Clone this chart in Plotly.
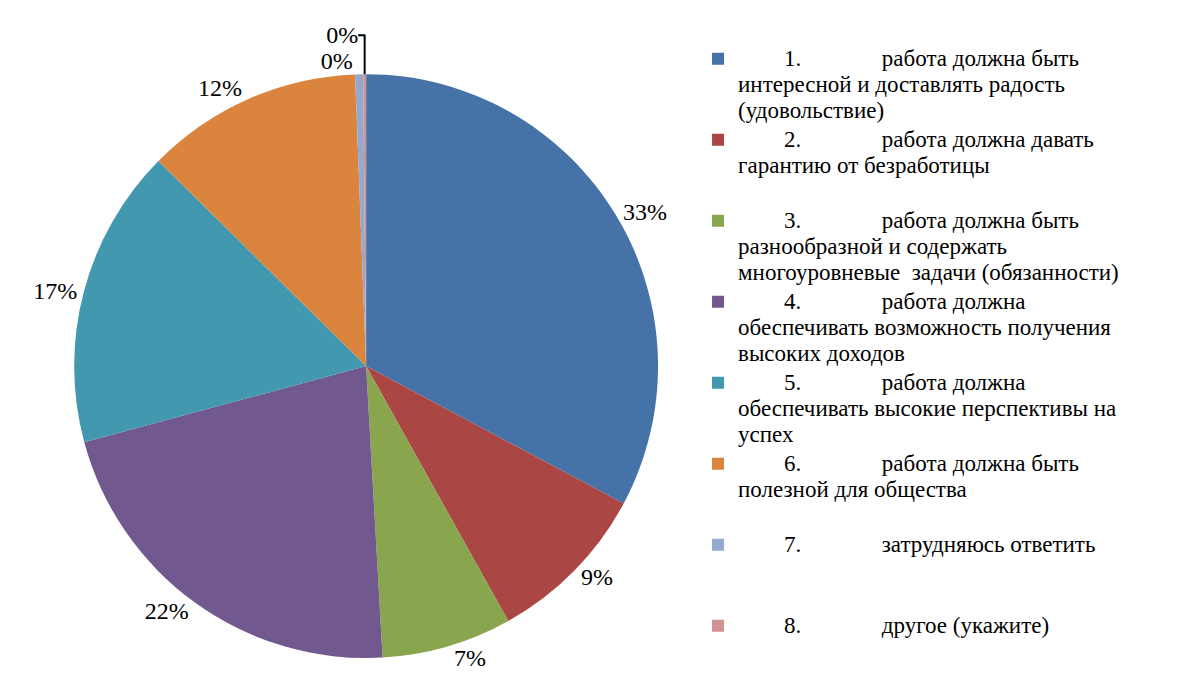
import plotly.graph_objects as go

NB = "\u00a0"
SERIF = "Liberation Serif, Times New Roman, serif"

numbers = ["1.", "2.", "3.", "4.", "5.", "6.", "7.", "8."]
label_lines = [
    ["работа должна быть", "интересной и доставлять радость", "(удовольствие)"],
    ["работа должна давать", "гарантию от безработицы"],
    ["работа должна быть", "разнообразной и содержать", "многоуровневые  задачи (обязанности)"],
    ["работа должна", "обеспечивать возможность получения", "высоких доходов"],
    ["работа должна", "обеспечивать высокие перспективы на", "успех"],
    ["работа должна быть", "полезной для общества"],
    ["затрудняюсь ответить"],
    ["другое (укажите)"],
]
values = [32.8, 9.1, 7.2, 21.7, 16.6, 12.0, 0.44, 0.16]
colors = ["#4572A7", "#AA4643", "#89A54E", "#71588F", "#4198AF", "#DB843D", "#93A9CF", "#D19392"]


def legend_text(num, lines):
    first = NB * 8 + num + NB * 14 + lines[0]
    rows = [first] + [l.replace("  ", NB + NB) for l in lines[1:]]
    while len(rows) < 3:
        rows.append(NB)
    return "<br>".join('<span style="font-size:23px">' + r + "</span>" for r in rows)


categories = [legend_text(n, l) for n, l in zip(numbers, label_lines)]

fig = go.Figure(go.Pie(
    labels=categories,
    values=values,
    sort=False,
    direction="clockwise",
    rotation=0,
    marker=dict(colors=colors, line=dict(width=0)),
    texttemplate="%{percent:.0%}",
    textposition="outside",
    textfont=dict(family=SERIF, size=24, color="black"),
    domain=dict(x=[0.0558, 0.5491], y=[0.062, 0.9045]),
    automargin=False,
    hoverinfo="percent",
))

fig.update_layout(
    width=1184, height=693,
    margin=dict(l=0, r=0, t=0, b=0),
    font=dict(family=SERIF, color="black"),
    paper_bgcolor="white",
    plot_bgcolor="white",
    showlegend=True,
    legend=dict(
        x=0.5828, xanchor="left",
        y=0.955, yanchor="top",
        valign="top",
        font=dict(family=SERIF, size=20, color="black"),
        tracegroupgap=0,
        bgcolor="rgba(0,0,0,0)",
    ),
)

fig.write_html("out.html")
